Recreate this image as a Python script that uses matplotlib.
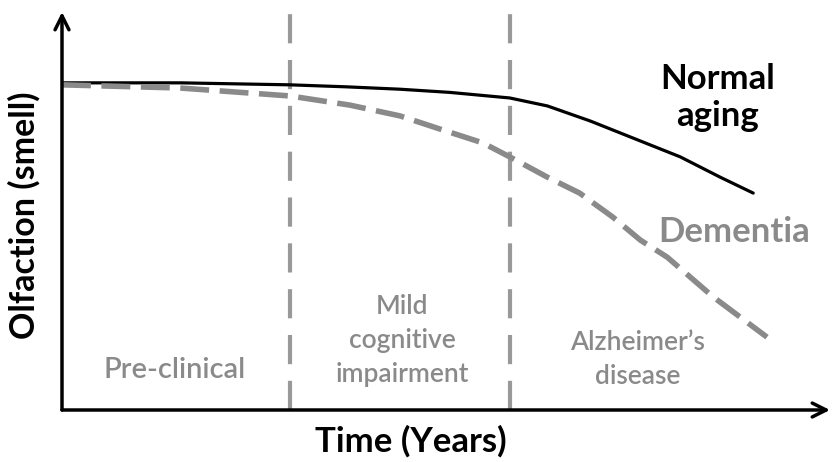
from matplotlib import pyplot as plt
import numpy as np

plt.rcParams['font.family'] = ['Lato', 'DejaVu Sans']

# curves (x in "years" units 0..10, y olfaction 0..10)
normal_x = [0.0, 1.54, 2.97, 3.70, 4.40, 5.05, 5.83, 6.32, 6.88, 7.40, 8.05, 8.57, 9.00]
normal_y = [8.22, 8.22, 8.17, 8.12, 8.06, 7.98, 7.84, 7.64, 7.26, 6.86, 6.36, 5.85, 5.45]
dementia_x = [0.0, 1.54, 2.97, 3.75, 4.40, 4.92, 5.48, 5.83, 6.32, 6.74, 7.17, 7.53, 7.88, 8.48, 9.18]
dementia_y = [8.17, 8.09, 7.89, 7.66, 7.39, 7.06, 6.71, 6.36, 5.85, 5.45, 4.85, 4.27, 3.84, 2.84, 1.83]
stage_bounds = [2.97, 5.83]

fig = plt.figure(figsize=(8.36, 4.62), dpi=100)
ax = fig.add_axes([62 / 836, 1 - 410 / 462, 768 / 836, 398 / 462])
ax.set_xlim(0, 10)
ax.set_ylim(0, 10)
ax.axis('off')

gray = '#8a8a8a'

for xb in stage_bounds:
    ax.plot([xb, xb], [0, 10.05], color='#999999', lw=3, linestyle=(0, (7, 4)), clip_on=False)

ax.plot(normal_x, normal_y, color='black', lw=2.3, solid_capstyle='round', solid_joinstyle='round')
ax.plot(dementia_x, dementia_y, color=gray, lw=4, linestyle=(0, (5.2, 1.9)))

# axis arrows
arrow = dict(arrowstyle='->', lw=2.5, color='black', mutation_scale=25, shrinkA=0, shrinkB=0)
ax.annotate('', xy=(0, 10), xytext=(0, 0), arrowprops=arrow, annotation_clip=False)
ax.annotate('', xy=(10, 0), xytext=(0, 0), arrowprops=arrow, annotation_clip=False)

ax.text(8.54, 7.85, 'Normal\naging', ha='center', va='center', fontsize=25,
        fontweight='bold', color='black', linespacing=1.2)
ax.text(8.75, 4.47, 'Dementia', ha='center', va='center', fontsize=25,
        fontweight='bold', color=gray)
ax.text(1.47, 1.0, 'Pre-clinical', ha='center', va='center', fontsize=21,
        fontweight='semibold', color=gray)
ax.text(4.43, 1.75, 'Mild\ncognitive\nimpairment', ha='center', va='center', fontsize=19,
        fontweight='semibold', color=gray, linespacing=1.45)
ax.text(7.49, 1.28, 'Alzheimer\u2019s\ndisease', ha='center', va='center', fontsize=19,
        fontweight='semibold', color=gray, linespacing=1.45)

fig.text(411 / 836, 1 - 441 / 462, 'Time (Years)', ha='center', va='center',
         fontsize=25, fontweight='bold')
fig.text(24 / 836, 1 - 215 / 462, 'Olfaction (smell)', ha='center', va='center',
         fontsize=24.5, fontweight='bold', rotation=90)

fig.savefig('out.png', dpi=100)
